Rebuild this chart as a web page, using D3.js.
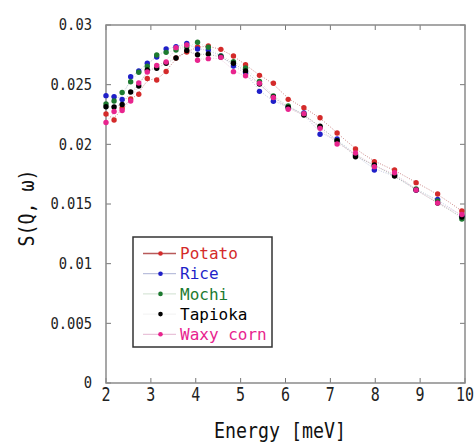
<!DOCTYPE html>
<html>
<head>
<meta charset="utf-8">
<script src="https://cdn.jsdelivr.net/npm/d3@7"></script>
<style>
  body { margin: 0; background: #fff; }
  svg { display: block; }
  text { font-family: "DejaVu Sans Mono", "Liberation Mono", monospace; }
</style>
</head>
<body>
<svg id="chart" width="474" height="443"></svg>
<script>
// energies (meV) of the measured points
var energy = [2.00, 2.18, 2.36, 2.55, 2.73, 2.92, 3.13, 3.34, 3.56, 3.80, 4.04, 4.28, 4.56, 4.84,
  5.11, 5.42, 5.73, 6.06, 6.41, 6.77, 7.15, 7.56, 7.98, 8.43, 8.91, 9.39, 9.93];

var potato = [0.02254, 0.02204, 0.02305, 0.0238, 0.0242, 0.02552, 0.02539, 0.0261, 0.02723, 0.02774,
  0.02816, 0.02824, 0.02796, 0.0274, 0.02667, 0.02578, 0.02512, 0.02377, 0.02307, 0.02223,
  0.02095, 0.01961, 0.01855, 0.01785, 0.01679, 0.01584, 0.01441];
var rice = [0.02408, 0.02399, 0.02376, 0.02567, 0.02615, 0.02679, 0.02732, 0.02799, 0.02818, 0.02845,
  0.02799, 0.0279, 0.0274, 0.02656, 0.026, 0.02444, 0.02361, 0.02313, 0.02263, 0.02084,
  0.02045, 0.01911, 0.01785, 0.01743, 0.01617, 0.01539, 0.01399];
var mochi = [0.02338, 0.02363, 0.02434, 0.02525, 0.02604, 0.02654, 0.02749, 0.02771, 0.0279, 0.02816,
  0.02855, 0.02813, 0.0274, 0.02692, 0.0264, 0.02528, 0.02405, 0.02321, 0.02254, 0.02145,
  0.0203, 0.01911, 0.01818, 0.01743, 0.01626, 0.01525, 0.01374];
var tapioka = [0.02315, 0.02313, 0.02334, 0.02439, 0.02489, 0.02623, 0.02637, 0.02679, 0.02723, 0.02786,
  0.02751, 0.02757, 0.02732, 0.02679, 0.02615, 0.02505, 0.02397, 0.02309, 0.02246, 0.02151,
  0.0203, 0.01896, 0.01827, 0.01735, 0.01617, 0.01508, 0.01391];
var waxyCorn = [0.02183, 0.02275, 0.02284, 0.02363, 0.02514, 0.02606, 0.02661, 0.0269, 0.0281, 0.02832,
  0.02704, 0.02718, 0.02729, 0.02609, 0.02575, 0.02512, 0.02392, 0.02294, 0.02257, 0.02134,
  0.02003, 0.01927, 0.01813, 0.01762, 0.01617, 0.01508, 0.01412];

var seriesNames = ['Potato', 'Rice', 'Mochi', 'Tapioka', 'Waxy corn'];
var seriesValues = [potato, rice, mochi, tapioka, waxyCorn];
var dotColors = ['#d42a2a', '#1f1fc8', '#1d7a30', '#000000', '#e8248e'];
var lineColors = ['#b85a5a', '#aab0d4', '#cfe0cf', '#9a9a9a', '#e4b4d0'];

var xTicks = [2, 3, 4, 5, 6, 7, 8, 9, 10];
var yTicks = [0, 0.005, 0.01, 0.015, 0.02, 0.025, 0.03];
var yTickLabels = ['0', '0.005', '0.01', '0.015', '0.02', '0.025', '0.03'];

function draw() {
  var svg = d3.select('#chart');
  var pl = 106, pr = 465, pt = 25, pb = 383;

  var x = d3.scaleLinear().domain([2, 10]).range([pl, pr]);
  var y = d3.scaleLinear().domain([0, 0.03]).range([pb, pt]);

  // ticks (inward, both sides)
  var ticks = svg.append('g').attr('stroke', '#777').attr('stroke-width', 1);
  yTicks.forEach(function(v) {
    ticks.append('line').attr('x1', pl).attr('x2', pl + 5).attr('y1', y(v)).attr('y2', y(v));
    ticks.append('line').attr('x1', pr - 5).attr('x2', pr).attr('y1', y(v)).attr('y2', y(v));
  });
  xTicks.forEach(function(v) {
    ticks.append('line').attr('x1', x(v)).attr('x2', x(v)).attr('y1', pb).attr('y2', pb - 5);
    ticks.append('line').attr('x1', x(v)).attr('x2', x(v)).attr('y1', pt).attr('y2', pt + 5);
  });

  // frame
  svg.append('rect').attr('x', pl).attr('y', pt)
    .attr('width', pr - pl).attr('height', pb - pt)
    .attr('fill', 'none').attr('stroke', '#8a8a8a').attr('stroke-width', 1.5);

  // tick labels
  yTicks.forEach(function(v, i) {
    svg.append('text')
      .attr('transform', 'translate(92,' + y(v) + ') scale(0.92,1)')
      .attr('text-anchor', 'end').attr('dy', '0.36em')
      .attr('font-size', 15).attr('fill', '#222')
      .text(yTickLabels[i]);
  });
  xTicks.forEach(function(v) {
    svg.append('text')
      .attr('transform', 'translate(' + x(v) + ',401) scale(0.75,1)')
      .attr('text-anchor', 'middle')
      .attr('font-size', 20).attr('fill', '#222')
      .text(v);
  });

  // axis titles
  svg.append('text')
    .attr('transform', 'translate(280,438) scale(0.87,1)')
    .attr('text-anchor', 'middle').attr('font-size', 21).attr('fill', '#111')
    .text('Energy [meV]');
  svg.append('text')
    .attr('transform', 'translate(34,208) rotate(-90) scale(0.87,1)')
    .attr('text-anchor', 'middle').attr('font-size', 21).attr('fill', '#111')
    .text('S(Q, ω)');

  // data
  var line = d3.line()
    .x(function(d) { return x(d[0]); })
    .y(function(d) { return y(d[1]); })
    .curve(d3.curveBasis);

  var plot = svg.append('g');
  seriesValues.forEach(function(vals, i) {
    var pts = energy.map(function(e, j) { return [e, vals[j]]; });
    plot.append('path').datum(pts)
      .attr('d', line)
      .attr('fill', 'none')
      .attr('stroke', lineColors[i])
      .attr('stroke-opacity', 0.8)
      .attr('stroke-width', 0.9)
      .attr('stroke-dasharray', '1,1.5');
  });
  seriesValues.forEach(function(vals, i) {
    plot.append('g').selectAll('circle').data(vals).enter().append('circle')
      .attr('cx', function(d, j) { return x(energy[j]); })
      .attr('cy', function(d) { return y(d); })
      .attr('r', 2.7)
      .attr('fill', dotColors[i]);
  });

  // legend
  var lg = svg.append('g');
  lg.append('rect').attr('x', 133).attr('y', 237).attr('width', 139).attr('height', 110)
    .attr('fill', '#fff').attr('stroke', '#333').attr('stroke-width', 1.5);
  seriesNames.forEach(function(name, i) {
    var cy = 253.5 + i * 20.2;
    lg.append('line').attr('x1', 143).attr('x2', 176).attr('y1', cy).attr('y2', cy)
      .attr('stroke', i === 3 ? '#f2f2f2' : lineColors[i]).attr('stroke-width', i === 0 ? 1.4 : 1);
    lg.append('circle').attr('cx', 160.5).attr('cy', cy).attr('r', 2.3).attr('fill', dotColors[i]);
    lg.append('text').attr('x', 180).attr('y', cy).attr('dy', '0.36em')
      .attr('font-size', 16).attr('fill', dotColors[i])
      .text(name);
  });
}

draw();
</script>
</body>
</html>
